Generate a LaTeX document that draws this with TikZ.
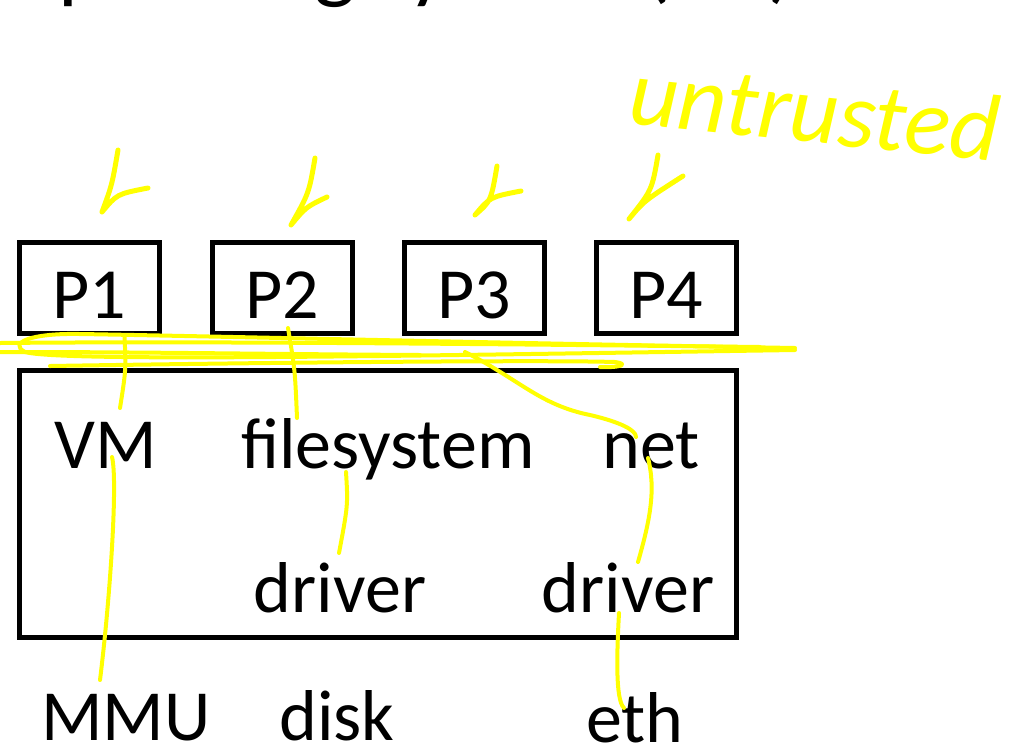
\documentclass[tikz,border=0pt]{standalone}
\usepackage{fontspec}
\setmainfont{Carlito}
\usetikzlibrary{calc}
\definecolor{marker}{RGB}{255,255,0}
\tikzset{
  pbox/.style={draw, line width=5pt, minimum width=140pt, minimum height=91pt,
    text height=60pt, text depth=0pt, inner sep=0pt, font=\fontsize{72}{80}\selectfont},
  lbl/.style={anchor=base, inner sep=0pt, font=\fontsize{72}{80}\selectfont},
  ink/.style={draw=marker, line width=4pt, line cap=round, line join=round},
}

\begin{document}
\begin{tikzpicture}[x=1pt, y=1pt]
        \useasboundingbox (0,0) rectangle (1019,-745);
        \clip (0,0) rectangle (1019,-745);

        % title, only its lower edge is in view
        \node[anchor=base west, inner sep=0pt, font=\fontsize{88}{96}\selectfont] (title) at (0,8) {Operating system (OS)};

        % processes
        \foreach \n/\x in {1/89.5, 2/282, 3/474, 4/666} {
            \node[pbox] (p\n) at (\x,-288) {P\n};
        }

        % kernel
        \node[draw, line width=5pt, minimum width=717pt, minimum height=267pt] (os) at (378,-504) {};
        \node[lbl] (vm) at (106,-468) {VM};
        \node[lbl] (fs) at (388,-468) {filesystem};
        \node[lbl] (net) at (651,-468) {net};
        \node[lbl] (drv1) at (340,-612) {driver};
        \node[lbl] (drv2) at (628,-612) {driver};

        % hardware
        \node[lbl] (mmu) at (126,-740) {MMU};
        \node[lbl] (disk) at (337,-740) {disk};
        \node[lbl] (eth) at (635,-742) {eth};

        % marker notes
        \node[text=marker, rotate=-6, inner sep=0pt, font=\fontsize{95}{100}\selectfont\itshape] (untr) at (815,-110) {untrusted};

        \foreach \tx/\ty/\bx/\by/\ex/\ey in {118/150/102/212/148/188, 315/158/291/225/327/197, 497/166/475/215/521/191, 658/155/629/219/683/176} {
            \draw[ink, line width=5pt] (\tx,-\ty) .. controls (\tx-6,-\ty-35) .. (\bx,-\by) .. controls (\bx+15,-\by+18) .. (\ex,-\ey);
        }

        % boundary scribble
        \draw[ink] (795,-348) .. controls (500,-343) and (200,-336) .. (80,-334)
            .. controls (30,-333) and (8,-343) .. (25,-352)
            .. controls (60,-362) and (400,-356) .. (795,-350);
        \draw[ink] (0,-343) .. controls (200,-341) and (500,-344) .. (760,-347);
        \draw[ink] (0,-352) .. controls (150,-352) and (250,-354) .. (420,-355);
        \draw[ink] (50,-366) .. controls (300,-362) and (550,-360) .. (615,-362)
            .. controls (630,-364) and (620,-368) .. (600,-367);
        \coordinate (cross) at (465,-352);

        % paths through the layers
        \draw[ink] ($(p1.south)+(35,1)$) .. controls (126,-370) .. ($(vm.base)+(14,60)$);
        \draw[ink] ($(p2.south)+(6,8)$) .. controls (295,-370) .. ($(fs.base)+(-91,50)$);
        \draw[ink] ($(vm.base)+(6,11)$) .. controls (118,-480) and (110,-600) .. ($(mmu.base)+(-26,60)$);
        \draw[ink] ($(fs.base)+(-42,-4)$) .. controls (348,-505) .. ($(drv1.base)+(-1,59)$);
        \draw[ink] (cross) .. controls (520,-380) and (540,-405) .. (590,-415)
            .. controls (620,-422) and (636,-430) .. ($(net.base)+(-15,31)$);
        \draw[ink] ($(net.base)+(-3,10)$) .. controls (656,-490) and (650,-520) .. ($(drv2.base)+(10,50)$);
        \draw[ink] ($(drv2.base)+(-9,-1)$) .. controls (617,-650) and (615,-700) .. ($(eth.base)+(-11,34)$);
\end{tikzpicture}
\end{document}
